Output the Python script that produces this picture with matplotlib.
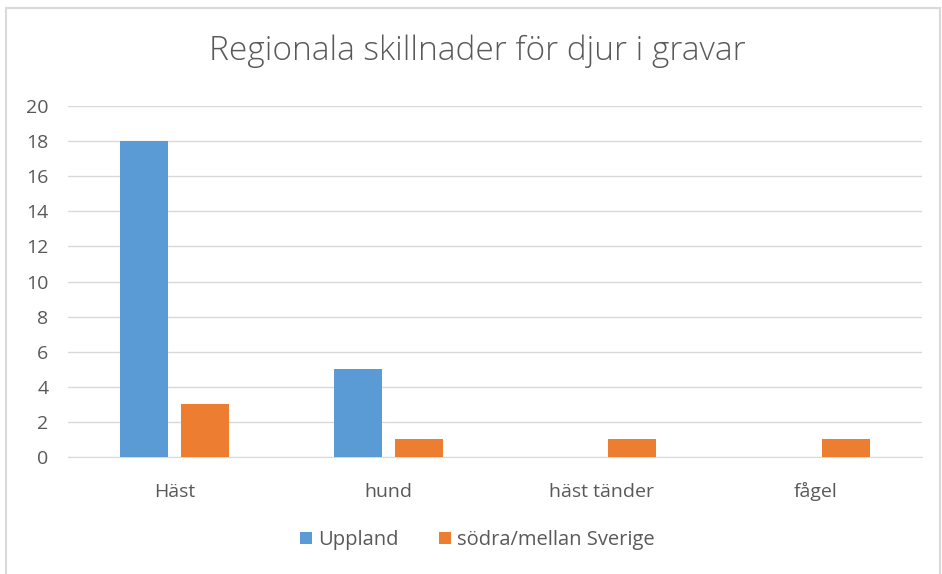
import matplotlib.pyplot as plt
import numpy as np
from matplotlib.patches import Rectangle

plt.rcParams['font.family'] = ['Open Sans', 'DejaVu Sans']

# data
categories = ['Häst', 'hund', 'häst tänder', 'fågel']
uppland = [18, 5, 0, 0]
sodra = [3, 1, 1, 1]
series_names = ['Uppland', 'södra/mellan Sverige']

blue = '#5B9BD5'
orange = '#ED7D31'
grey = '#595959'

fig = plt.figure(figsize=(9.42, 5.74), dpi=100)
ax = fig.add_axes([0.0722, 0.2038, 0.9066, 0.6115])

# chart border
fig.patches.append(Rectangle((0.006, -0.01), 0.992, 0.996, transform=fig.transFigure,
                             fill=False, edgecolor='#D9D9D9', linewidth=1.5))

x = np.arange(len(categories))
w = 0.225
ax.bar(x - 0.1425, uppland, w, color=blue, label=series_names[0], zorder=3)
ax.bar(x + 0.1425, sodra, w, color=orange, label=series_names[1], zorder=3)

ax.set_xlim(-0.5, len(categories) - 0.5)
ax.set_ylim(0, 20)
ax.set_yticks(range(0, 21, 2))
ax.set_xticks(x)
ax.set_xticklabels(categories, va='baseline')
ax.yaxis.grid(True, color='#D9D9D9', linewidth=1, zorder=0)
for s in ['top', 'right', 'left']:
    ax.spines[s].set_visible(False)
ax.spines['bottom'].set_color('#D9D9D9')
ax.tick_params(axis='both', length=0, labelsize=14, colors=grey)
ax.tick_params(axis='y', pad=14)
ax.tick_params(axis='x', pad=29)

fig.text(0.507, 0.91, 'Regionala skillnader för djur i gravar', ha='center', va='center',
         fontsize=24, color=grey, fontweight='light')

fig.legend(loc='center', bbox_to_anchor=(0.507, 0.059), ncol=2, frameon=False,
           fontsize=14.5, labelcolor=grey, handlelength=0.6, handleheight=0.6,
           handletextpad=0.3, columnspacing=2.0)

fig.savefig('out.png', dpi=100)
